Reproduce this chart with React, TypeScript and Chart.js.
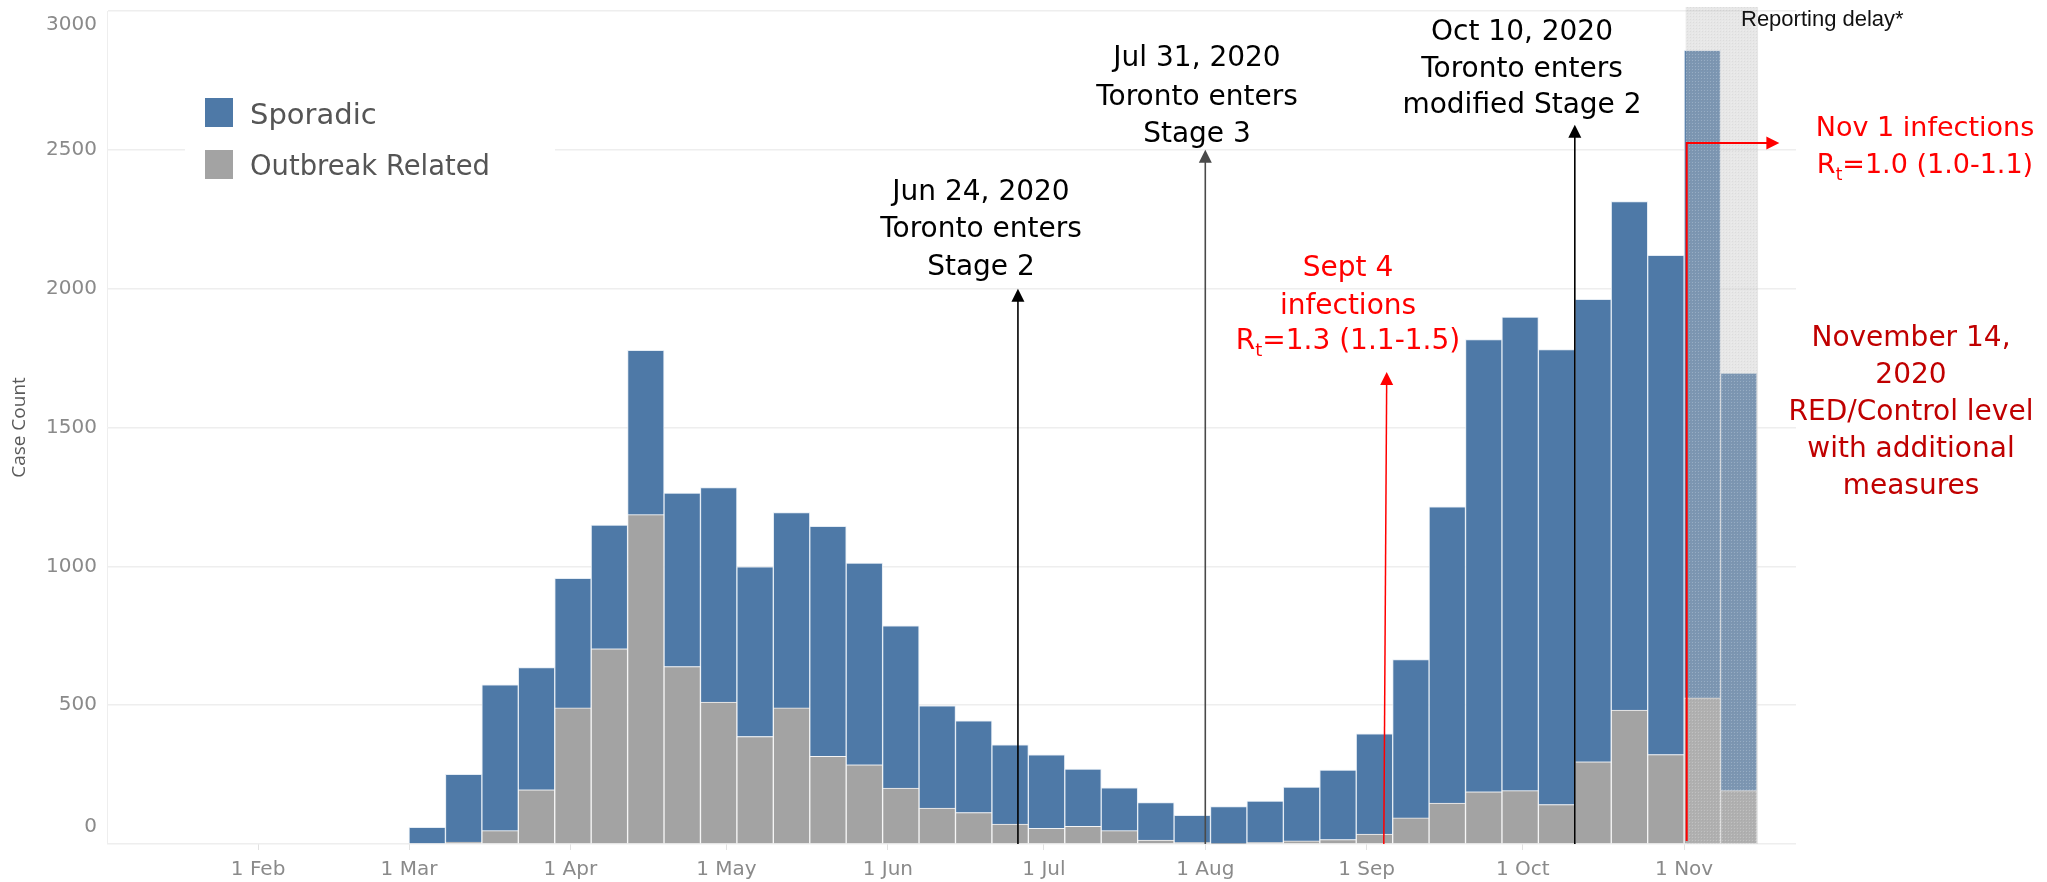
import React, { useEffect, useRef } from 'react';
import { Chart, registerables } from 'chart.js';

Chart.register(...registerables);

// ---------- DATA ----------
const weekStarts = [
  '2020-03-01', '2020-03-08', '2020-03-15', '2020-03-22', '2020-03-29',
  '2020-04-05', '2020-04-12', '2020-04-19', '2020-04-26', '2020-05-03',
  '2020-05-10', '2020-05-17', '2020-05-24', '2020-05-31', '2020-06-07',
  '2020-06-14', '2020-06-21', '2020-06-28', '2020-07-05', '2020-07-12',
  '2020-07-19', '2020-07-26', '2020-08-02', '2020-08-09', '2020-08-16',
  '2020-08-23', '2020-08-30', '2020-09-06', '2020-09-13', '2020-09-20',
  '2020-09-27', '2020-10-04', '2020-10-11', '2020-10-18', '2020-10-25',
  '2020-11-01', '2020-11-08',
];
const outbreakRelated = [
  0, 7, 48, 195, 490, 703, 1186, 639, 511, 387,
  490, 316, 285, 201, 129, 113, 72, 56, 64, 48,
  14, 5, 2, 5, 11, 16, 36, 94, 147, 188,
  192, 142, 296, 482, 322, 526, 192,
];
const sporadic = [
  60, 244, 525, 440, 467, 446, 592, 625, 773, 611,
  704, 828, 727, 585, 369, 331, 285, 265, 206, 154,
  135, 98, 133, 150, 194, 250, 361, 570, 1067, 1629,
  1706, 1639, 1666, 1832, 1798, 2332, 1504,
];
const monthTickDates = [
  '2020-02-01', '2020-03-01', '2020-04-01', '2020-05-01', '2020-06-01',
  '2020-07-01', '2020-08-01', '2020-09-01', '2020-10-01', '2020-11-01',
];
const monthTickLabels = ['1 Feb', '1 Mar', '1 Apr', '1 May', '1 Jun', '1 Jul', '1 Aug', '1 Sep', '1 Oct', '1 Nov'];
const yTickValues = [0, 500, 1000, 1500, 2000, 2500, 3000];
const seriesNames = ['Sporadic', 'Outbreak Related'];

// ---------- helpers ----------
const dayOf = (s: string) => {
  const [yy, mm, dd] = s.split('-').map(Number);
  return (Date.UTC(yy, mm - 1, dd) - Date.UTC(2020, 0, 1)) / 86400000;
};

const BLUE = '#4e79a7';
const GRAY = '#a3a3a3';
const FONT = '"DejaVu Sans", sans-serif';

// annotation anchors (x as day-of-year, tip as case count)
const events = [
  { day: 177.0, tip: 2000, color: '#000000', textX: 981, lines: ['Jun 24, 2020', 'Toronto enters', 'Stage 2'], ys: [190, 227, 265] },
  { day: 213.0, tip: 2500, color: '#4a4a4a', textX: 1197, lines: ['Jul 31, 2020', 'Toronto enters', 'Stage 3'], ys: [56, 95, 132] },
  { day: 284.0, tip: 2590, color: '#000000', textX: 1522, lines: ['Oct 10, 2020', 'Toronto enters', 'modified Stage 2'], ys: [30, 67, 103] },
];

function drawCentered(ctx: CanvasRenderingContext2D, text: string, cx: number, cy: number, size: number, color: string) {
  ctx.font = `${size}px ${FONT}`;
  ctx.fillStyle = color;
  ctx.textAlign = 'center';
  ctx.textBaseline = 'alphabetic';
  ctx.fillText(text, cx, cy + size * 0.36);
}

function drawRt(ctx: CanvasRenderingContext2D, rest: string, cx: number, cy: number, size: number, color: string) {
  const sub = Math.round(size * 0.64);
  ctx.font = `${size}px ${FONT}`;
  const wR = ctx.measureText('R').width;
  const wRest = ctx.measureText(rest).width;
  ctx.font = `${sub}px ${FONT}`;
  const wt = ctx.measureText('t').width;
  const total = wR + wt + wRest;
  const x0 = cx - total / 2;
  const base = cy + size * 0.36;
  ctx.fillStyle = color;
  ctx.textAlign = 'left';
  ctx.textBaseline = 'alphabetic';
  ctx.font = `${size}px ${FONT}`;
  ctx.fillText('R', x0, base);
  ctx.font = `${sub}px ${FONT}`;
  ctx.fillText('t', x0 + wR, base + 7);
  ctx.font = `${size}px ${FONT}`;
  ctx.fillText(rest, x0 + wR + wt, base);
}

function upArrow(ctx: CanvasRenderingContext2D, xb: number, yb: number, xt: number, yt: number, color: string, lw: number) {
  ctx.strokeStyle = color;
  ctx.fillStyle = color;
  ctx.lineWidth = lw;
  ctx.beginPath();
  ctx.moveTo(xb, yb);
  ctx.lineTo(xt, yt + 10);
  ctx.stroke();
  ctx.beginPath();
  ctx.moveTo(xt, yt);
  ctx.lineTo(xt - 6.5, yt + 13);
  ctx.lineTo(xt + 6.5, yt + 13);
  ctx.closePath();
  ctx.fill();
}

let dotPattern: CanvasPattern | null = null;
function getDots(ctx: CanvasRenderingContext2D) {
  if (dotPattern) return dotPattern;
  const c = document.createElement('canvas');
  c.width = 3;
  c.height = 3;
  const g = c.getContext('2d')!;
  g.fillStyle = 'rgba(255,255,255,0.22)';
  g.fillRect(0, 0, 1, 1);
  g.fillStyle = 'rgba(120,120,120,0.10)';
  g.fillRect(1, 1, 1, 1);
  dotPattern = ctx.createPattern(c, 'repeat');
  return dotPattern;
}

const annotationPlugin = {
  id: 'annotationPlugin',
  beforeDatasetsDraw(chart: any) {
    const { ctx } = chart;
    ctx.save();
    ctx.fillStyle = '#ffffff';
    ctx.fillRect(185, 66, 370, 130);
    ctx.restore();
  },
  afterDatasetsDraw(chart: any) {
    const { ctx, chartArea } = chart;
    const xs = chart.scales.x;
    const ys = chart.scales.y;
    ctx.save();

    // reporting delay shading
    const sx1 = xs.getPixelForValue(dayOf('2020-11-01') + 0.3);
    const sx2 = xs.getPixelForValue(dayOf('2020-11-15') + 0.2);
    ctx.fillStyle = 'rgba(195,195,195,0.40)';
    ctx.fillRect(sx1, chartArea.top - 4, sx2 - sx1, chartArea.bottom - chartArea.top + 4);
    const pat = getDots(ctx);
    if (pat) {
      ctx.fillStyle = pat;
      ctx.fillRect(sx1, chartArea.top - 4, sx2 - sx1, chartArea.bottom - chartArea.top + 4);
    }
    ctx.font = `22px "Liberation Sans", Arial, sans-serif`;
    ctx.fillStyle = '#111';
    ctx.textAlign = 'left';
    ctx.textBaseline = 'alphabetic';
    ctx.fillText('Reporting delay*', 1741, 26);

    // legend
    ctx.fillStyle = BLUE;
    ctx.fillRect(205, 98, 28, 29);
    ctx.fillStyle = GRAY;
    ctx.fillRect(205, 150, 28, 29);
    ctx.font = `29px ${FONT}`;
    ctx.fillStyle = '#555555';
    ctx.fillText(seriesNames[0], 250, 124);
    ctx.fillText(seriesNames[1], 250, 175, 240);

    // y tick labels
    ctx.font = `20px ${FONT}`;
    ctx.fillStyle = '#8a8a8a';
    ctx.textAlign = 'right';
    ctx.textBaseline = 'middle';
    yTickValues.forEach((v) => {
      const py = ys.getPixelForValue(v);
      const cy = Math.min(Math.max(py, chartArea.top + 14), chartArea.bottom - 17);
      ctx.fillText(String(v), 97, cy);
    });

    // y title
    ctx.save();
    ctx.translate(20, (chartArea.top + chartArea.bottom) / 2);
    ctx.rotate(-Math.PI / 2);
    ctx.font = `19px "Open Sans", sans-serif`;
    ctx.fillStyle = '#595959';
    ctx.textAlign = 'center';
    ctx.textBaseline = 'middle';
    ctx.fillText('Case Count', 0, 0);
    ctx.restore();

    // black stage arrows
    events.forEach((e) => {
      const px = xs.getPixelForValue(e.day);
      upArrow(ctx, px, chartArea.bottom, px, ys.getPixelForValue(e.tip), e.color, 1.6);
      e.lines.forEach((t, i) => drawCentered(ctx, t, e.textX, e.ys[i], 28, '#000000'));
    });

    // Sept 4 red arrow
    const sb = xs.getPixelForValue(dayOf('2020-09-04') + 0.3);
    const st = xs.getPixelForValue(dayOf('2020-09-04') + 0.85);
    upArrow(ctx, sb, chartArea.bottom, st, ys.getPixelForValue(1700), '#ff0000', 1.5);
    drawCentered(ctx, 'Sept 4', 1348, 266, 28, '#ff0000');
    drawCentered(ctx, 'infections', 1348, 304, 28, '#ff0000');
    drawRt(ctx, '=1.3 (1.1-1.5)', 1348, 339, 28, '#ff0000');

    // Nov 1 red elbow arrow
    const nx = xs.getPixelForValue(dayOf('2020-11-01') + 0.5);
    const ny = ys.getPixelForValue(2525);
    const nEnd = xs.getPixelForValue(dayOf('2020-11-19') + 0.3);
    ctx.strokeStyle = '#ff0000';
    ctx.fillStyle = '#ff0000';
    ctx.lineWidth = 2;
    ctx.beginPath();
    ctx.moveTo(nx, chartArea.bottom - 3);
    ctx.lineTo(nx, ny);
    ctx.lineTo(nEnd - 10, ny);
    ctx.stroke();
    ctx.beginPath();
    ctx.moveTo(nEnd, ny);
    ctx.lineTo(nEnd - 13, ny - 6.5);
    ctx.lineTo(nEnd - 13, ny + 6.5);
    ctx.closePath();
    ctx.fill();
    drawCentered(ctx, 'Nov 1 infections', 1925, 126, 27, '#ff0000');
    drawRt(ctx, '=1.0 (1.0-1.1)', 1925, 163, 27, '#ff0000');

    // Nov 14 note
    const note = ['November 14,', '2020', 'RED/Control level', 'with additional', 'measures'];
    const noteY = [336, 373, 410, 447, 484];
    note.forEach((t, i) => drawCentered(ctx, t, 1911, noteY[i], 28, '#c00000'));

    ctx.restore();
  },
};

export default function App() {
  const ref = useRef<HTMLCanvasElement | null>(null);

  useEffect(() => {
    document.body.style.margin = '0';
    const canvas = ref.current;
    if (!canvas) return;
    const tickDays = monthTickDates.map(dayOf);
    const mk = (vals: number[]) => weekStarts.map((d, i) => ({ x: dayOf(d) + 3.5, y: vals[i] }));

    const chart = new Chart(canvas, {
      type: 'bar',
      data: {
        datasets: [
          {
            label: seriesNames[1],
            data: mk(outbreakRelated),
            backgroundColor: GRAY,
            borderColor: 'rgba(245,245,245,0.9)',
            borderWidth: { top: 1, left: 1, right: 1, bottom: 0 },
            borderSkipped: false,
            barPercentage: 1,
            categoryPercentage: 1,
          },
          {
            label: seriesNames[0],
            data: mk(sporadic),
            backgroundColor: BLUE,
            borderColor: 'rgba(225,234,243,0.9)',
            borderWidth: { top: 1, left: 1, right: 1, bottom: 0 },
            borderSkipped: false,
            barPercentage: 1,
            categoryPercentage: 1,
          },
        ],
      } as any,
      options: {
        responsive: false,
        animation: false,
        devicePixelRatio: 1,
        layout: { padding: { top: 11, right: 251, left: 0, bottom: 0 } },
        plugins: { legend: { display: false }, tooltip: { enabled: false } },
        scales: {
          x: {
            type: 'linear',
            min: 1.97,
            max: 326.5,
            stacked: true,
            offset: false,
            grid: { offset: false, drawOnChartArea: false, drawTicks: true, tickLength: 6, color: '#e2e2e2' },
            border: { display: false },
            afterBuildTicks: (s: any) => {
              s.ticks = tickDays.map((v) => ({ value: v }));
            },
            afterFit: (s: any) => {
              s.height = 38;
            },
            ticks: {
              autoSkip: false,
              maxRotation: 0,
              minRotation: 0,
              padding: 8,
              color: '#8a8a8a',
              font: { family: 'DejaVu Sans', size: 20 },
              callback: (v: any) => {
                const i = tickDays.indexOf(Number(v));
                return i >= 0 ? monthTickLabels[i] : '';
              },
            },
          },
          y: {
            min: 0,
            max: 3000,
            stacked: true,
            afterFit: (s: any) => {
              s.width = 107;
            },
            afterBuildTicks: (s: any) => {
              s.ticks = yTickValues.map((v) => ({ value: v }));
            },
            grid: { color: '#eeeeee', drawTicks: false, lineWidth: 1.5 },
            border: { display: true, color: '#eeeeee' },
            ticks: { display: false },
          },
        },
      } as any,
      plugins: [annotationPlugin],
    });
    return () => chart.destroy();
  }, []);

  return (
    <div style={{ position: 'absolute', left: 0, top: 0, width: 2047, height: 882, background: '#fff' }}>
      <canvas ref={ref} width={2047} height={882} style={{ display: 'block', width: 2047, height: 882 }} />
    </div>
  );
}
